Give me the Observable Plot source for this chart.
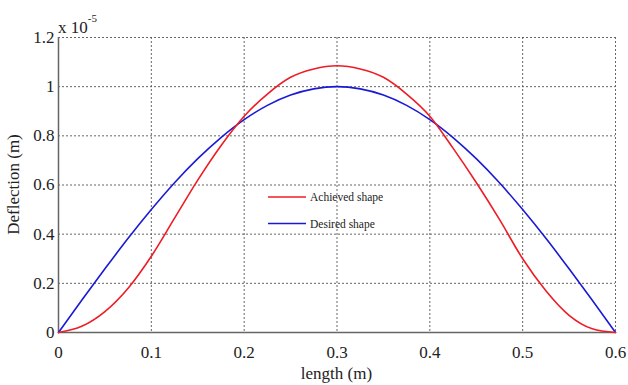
<!DOCTYPE html>
<html>
<head>
<meta charset="utf-8">
<script src="https://cdn.jsdelivr.net/npm/d3@7"></script>
<script src="https://cdn.jsdelivr.net/npm/@observablehq/plot@0.6"></script>
<style>
  html, body { margin: 0; padding: 0; background: #fff; }
  #chart { width: 628px; height: 385px; }
  #chart svg, #chart svg text { font-family: "Liberation Serif", "DejaVu Serif", serif !important; }
</style>
</head>
<body>
<div id="chart"></div>
<script>
// x positions along the beam (m)
const lengths = [0, 0.025, 0.05, 0.075, 0.1, 0.125, 0.15, 0.175, 0.2, 0.225, 0.25, 0.275, 0.3,
                 0.325, 0.35, 0.375, 0.4, 0.425, 0.45, 0.475, 0.5, 0.525, 0.55, 0.575, 0.6];
// Deflection values (x 10^-5 m)
const achieved = [0, 0.025, 0.085, 0.18, 0.31, 0.465, 0.62, 0.76, 0.88, 0.97, 1.038, 1.072, 1.085,
                  1.072, 1.038, 0.97, 0.88, 0.75, 0.61, 0.46, 0.30, 0.17, 0.07, 0.015, 0];
const desired = [0, 0.131, 0.259, 0.383, 0.5, 0.609, 0.707, 0.793, 0.866, 0.924, 0.966, 0.991, 1.0,
                 0.991, 0.966, 0.924, 0.866, 0.793, 0.707, 0.609, 0.5, 0.383, 0.259, 0.131, 0];
const xTicks = [0, 0.1, 0.2, 0.3, 0.4, 0.5, 0.6];
const yTicks = [0, 0.2, 0.4, 0.6, 0.8, 1, 1.2];
const seriesNames = ["Achieved shape", "Desired shape"];
const seriesColors = ["#ee1c25", "#1a1ad6"];

const rows = [];
lengths.forEach((x, i) => {
  rows.push({x, y: achieved[i], s: seriesNames[0]});
  rows.push({x, y: desired[i], s: seriesNames[1]});
});

const W = 628, H = 385;
const mL = 58, mR = 13, mT = 37, mB = 53;
const ff = "Liberation Serif, DejaVu Serif, serif";

const chart = Plot.plot({
  width: W, height: H,
  marginLeft: mL, marginRight: mR, marginTop: mT, marginBottom: mB,
  style: {fontFamily: ff, fontSize: "17px", color: "#222", background: "#fff", overflow: "visible"},
  x: {domain: [0, 0.6]},
  y: {domain: [0, 1.2]},
  color: {domain: seriesNames, range: seriesColors},
  marks: [
    Plot.gridX(xTicks.slice(1), {stroke: "#555", strokeOpacity: 0.9, strokeDasharray: "2,2", strokeWidth: 1}),
    Plot.gridY(yTicks.slice(1), {stroke: "#555", strokeOpacity: 0.9, strokeDasharray: "2,2", strokeWidth: 1}),
    Plot.ruleX([0], {stroke: "#666", strokeWidth: 1.5}),
    Plot.ruleY([0], {stroke: "#666", strokeWidth: 1.5}),
    Plot.line(rows.filter(d => d.s === seriesNames[1]), {x: "x", y: "y", stroke: "s", strokeWidth: 1.6, curve: "monotone-x"}),
    Plot.line(rows.filter(d => d.s === seriesNames[0]), {x: "x", y: "y", stroke: "s", strokeWidth: 1.6, curve: "monotone-x"}),
    Plot.axisX(xTicks, {tickSize: 0, tickPadding: 13, label: null, tickFormat: d => String(d)}),
    Plot.axisY(yTicks, {tickSize: 0, tickPadding: 4, label: null, tickFormat: d => String(d)})
  ]
});
document.getElementById("chart").appendChild(chart);

const svg = d3.select(chart);
// axis titles
svg.append("text").attr("x", (mL + W - mR) / 2).attr("y", 379)
  .attr("text-anchor", "middle").attr("font-size", 17).attr("fill", "#222")
  .text("length (m)");
svg.append("text").attr("transform", `translate(19,${(mT + H - mB) / 2}) rotate(-90)`)
  .attr("text-anchor", "middle").attr("font-size", 17).attr("fill", "#222")
  .text("Deflection (m)");
// exponent label
const ex = svg.append("text").attr("x", 58).attr("y", 33).attr("text-anchor", "start")
  .attr("font-size", 17).attr("fill", "#222");
ex.append("tspan").text("x 10");
ex.append("tspan").attr("dy", -11).attr("font-size", 11).text("-5");

// legend
const lg = svg.append("g").attr("text-anchor", "start");
seriesNames.forEach((name, i) => {
  const y = 197 + i * 26.5;
  lg.append("line").attr("x1", 268).attr("x2", 306).attr("y1", y).attr("y2", y)
    .attr("stroke", seriesColors[i]).attr("stroke-width", 1.6);
  lg.append("text").attr("x", 310).attr("y", y + 4).attr("text-anchor", "start")
    .attr("font-size", 11.5).attr("fill", "#222").text(name);
});
</script>
</body>
</html>
